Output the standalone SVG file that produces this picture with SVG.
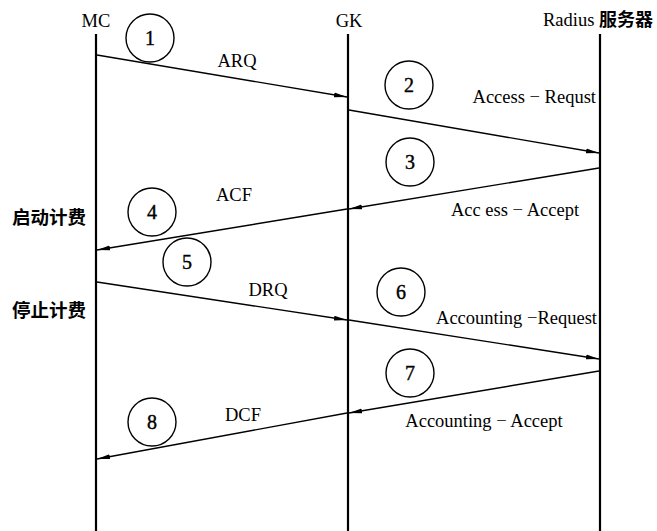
<svg xmlns="http://www.w3.org/2000/svg" width="657" height="531" viewBox="0 0 657 531">
<style>
.t{font-family:"Liberation Serif","Times New Roman",serif;font-size:18.5px;fill:#000}
.c{font-family:"Noto Sans CJK SC","Liberation Sans",sans-serif;font-size:18.5px;font-weight:bold;fill:#000}
.life{stroke:#000;stroke-width:2.2;fill:none}
.msg{stroke:#000;stroke-width:1.4;fill:none;marker-end:url(#ah)}
.num circle{fill:#fff;stroke:#000;stroke-width:1.4}
.num text{font-family:"Liberation Serif","Times New Roman",serif;font-size:20px;text-anchor:middle;fill:#000;stroke:#000;stroke-width:0.4}
</style>
<defs>
<marker id="ah" markerWidth="14" markerHeight="6" refX="13" refY="3" orient="auto" markerUnits="userSpaceOnUse">
<path d="M0,0.6 L13,3 L0,5.4 Z" fill="#000"/>
</marker>
</defs>
<rect width="657" height="531" fill="#fff"/>
<g id="MC"><line class="life" x1="96" y1="34" x2="96" y2="531"/><text class="t" x="96" y="27" text-anchor="middle">MC</text></g>
<g id="GK"><line class="life" x1="348" y1="34" x2="348" y2="531"/><text class="t" x="349" y="27" text-anchor="middle">GK</text></g>
<g id="Radius"><line class="life" x1="600" y1="34" x2="600" y2="531"/><text class="t" x="543" y="26">Radius <tspan font-family="Noto Sans CJK SC,sans-serif" font-weight="bold" font-size="18">服务器</tspan></text></g>
<g id="side-labels">
<text class="c" x="12" y="224">启动计费</text>
<text class="c" x="12" y="317">停止计费</text>
</g>
<g id="connectors">
<line class="msg" x1="97" y1="55" x2="347" y2="97"/>
<line class="msg" x1="349" y1="110" x2="599" y2="153"/>
<line class="msg" x1="599" y1="168" x2="349" y2="209"/>
<line class="msg" x1="347" y1="209" x2="97" y2="250"/>
<line class="msg" x1="97" y1="282" x2="347" y2="320"/>
<line class="msg" x1="349" y1="320" x2="599" y2="359"/>
<line class="msg" x1="599" y1="371" x2="349" y2="413"/>
<line class="msg" x1="347" y1="413" x2="97" y2="459"/>
</g>
<g id="msg-labels">
<text class="t" x="237" y="67" text-anchor="middle">ARQ</text>
<text class="t" x="596" y="103" text-anchor="end">Access − Requst</text>
<text class="t" x="515" y="216" text-anchor="middle">Acc ess  − Accept</text>
<text class="t" x="234" y="201" text-anchor="middle">ACF</text>
<text class="t" x="268" y="296" text-anchor="middle">DRQ</text>
<text class="t" x="597" y="324" text-anchor="end">Accounting −Request</text>
<text class="t" x="484" y="427" text-anchor="middle">Accounting − Accept</text>
<text class="t" x="243" y="421" text-anchor="middle">DCF</text>
</g>
<g id="n1" class="num"><circle cx="150" cy="38" r="24"/><text x="150" y="45">1</text></g>
<g id="n2" class="num"><circle cx="409" cy="85" r="24"/><text x="409" y="92">2</text></g>
<g id="n3" class="num"><circle cx="410" cy="162" r="24"/><text x="410" y="169">3</text></g>
<g id="n4" class="num"><circle cx="152" cy="212" r="24"/><text x="152" y="219">4</text></g>
<g id="n5" class="num"><circle cx="187" cy="262" r="24"/><text x="187" y="269">5</text></g>
<g id="n6" class="num"><circle cx="401" cy="292" r="24"/><text x="401" y="299">6</text></g>
<g id="n7" class="num"><circle cx="410" cy="373" r="24"/><text x="410" y="380">7</text></g>
<g id="n8" class="num"><circle cx="152" cy="422" r="24"/><text x="152" y="429">8</text></g>
</svg>
